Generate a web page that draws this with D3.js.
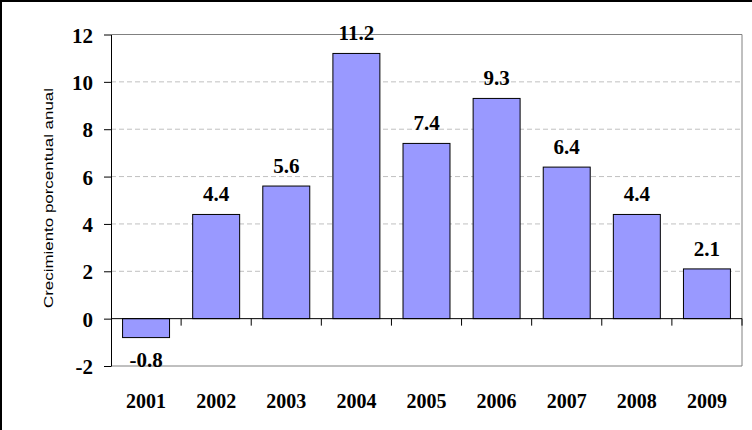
<!DOCTYPE html>
<html>
<head>
<meta charset="utf-8">
<script src="https://cdn.jsdelivr.net/npm/d3@7"></script>
<style>
  body { margin: 0; background: #fff; }
</style>
</head>
<body>
<svg class="chart"></svg>
<script>
// Datos
var years = ["2001", "2002", "2003", "2004", "2005", "2006", "2007", "2008", "2009"];
var growth = [-0.8, 4.4, 5.6, 11.2, 7.4, 9.3, 6.4, 4.4, 2.1];
var valueLabels = ["-0.8", "4.4", "5.6", "11.2", "7.4", "9.3", "6.4", "4.4", "2.1"];
var yTicks = [-2, 0, 2, 4, 6, 8, 10, 12];
var yTickLabels = ["-2", "0", "2", "4", "6", "8", "10", "12"];
var yTitle = "Crecimiento porcentual anual";

var data = years.map(function(y, i) { return { year: y, value: growth[i], label: valueLabels[i] }; });

var W = 752, H = 430;
var plotLeft = 111, plotRight = 742, plotTop = 34.5, plotBottom = 366;
var serif = "'Liberation Serif', 'Times New Roman', 'DejaVu Serif', serif";

var svg = d3.select(".chart")
    .attr("width", W)
    .attr("height", H);

// Marco exterior (solo se ven arriba e izquierda)
svg.append("rect")
    .attr("x", 1).attr("y", 1)
    .attr("width", W + 10).attr("height", H + 10)
    .attr("fill", "none")
    .attr("stroke", "#000")
    .attr("stroke-width", 2);

// Escalas
var x = d3.scaleBand()
    .domain(years)
    .range([plotLeft, plotRight])
    .padding(0);

var y = d3.scaleLinear()
    .domain([-2, 12])
    .range([plotBottom, plotTop]);

var barW = x.bandwidth() * 0.67;

// Líneas de cuadrícula
svg.selectAll(".grid")
    .data(yTicks.filter(function(t) { return t > 0 && t < 12; }))
  .enter().append("line")
    .attr("x1", plotLeft).attr("x2", plotRight)
    .attr("y1", function(d) { return y(d); })
    .attr("y2", function(d) { return y(d); })
    .attr("stroke", "#c0c0c0")
    .attr("stroke-dasharray", "5,3");

// Marco del área de trazado
svg.append("path")
    .attr("d", "M" + plotLeft + "," + y(12) + "H" + plotRight + "V" + y(-2) + "H" + plotLeft)
    .attr("fill", "none")
    .attr("stroke", "#808080")
    .attr("stroke-width", 1);

// Barras
svg.selectAll(".bar")
    .data(data)
  .enter().append("rect")
    .attr("class", "bar")
    .attr("x", function(d) { return x(d.year) + (x.bandwidth() - barW) / 2; })
    .attr("width", barW)
    .attr("y", function(d) { return y(Math.max(0, d.value)); })
    .attr("height", function(d) { return Math.abs(y(d.value) - y(0)); })
    .attr("fill", "#9999ff")
    .attr("stroke", "#000")
    .attr("stroke-width", 1);

// Línea del cero y marcas entre categorías
svg.append("line")
    .attr("x1", plotLeft).attr("x2", plotRight)
    .attr("y1", y(0)).attr("y2", y(0))
    .attr("stroke", "#000");

svg.selectAll(".xtick")
    .data(years)
  .enter().append("line")
    .attr("x1", function(d) { return x(d) + x.bandwidth(); })
    .attr("x2", function(d) { return x(d) + x.bandwidth(); })
    .attr("y1", y(0))
    .attr("y2", y(0) + 7)
    .attr("stroke", "#000");

// Eje Y
var yAxis = svg.append("g")
    .attr("transform", "translate(" + plotLeft + ",0)")
    .call(d3.axisLeft(y)
        .tickValues(yTicks)
        .tickFormat(function(d, i) { return yTickLabels[i]; })
        .tickSize(7)
        .tickSizeOuter(0)
        .tickPadding(11));

yAxis.attr("font-family", null).attr("font-size", null);
yAxis.select(".domain").attr("stroke", "#000");
yAxis.selectAll(".tick line").attr("stroke", "#000");
yAxis.selectAll(".tick text")
    .attr("fill", "#000")
    .attr("dy", "0.36em")
    .style("font-family", serif)
    .style("font-weight", "bold")
    .style("font-size", "21px");

// Etiquetas de valores
svg.selectAll(".vlabel")
    .data(data)
  .enter().append("text")
    .attr("x", function(d) { return x(d.year) + x.bandwidth() / 2; })
    .attr("y", function(d) { return d.value >= 0 ? y(d.value) - 13 : y(d.value) + 29; })
    .attr("text-anchor", "middle")
    .style("font-family", serif)
    .style("font-weight", "bold")
    .style("font-size", "21px")
    .text(function(d) { return d.label; });

// Etiquetas del eje X
svg.selectAll(".xlabel")
    .data(years)
  .enter().append("text")
    .attr("x", function(d) { return x(d) + x.bandwidth() / 2; })
    .attr("y", 407.5)
    .attr("text-anchor", "middle")
    .style("font-family", serif)
    .style("font-weight", "bold")
    .style("font-size", "20px")
    .text(function(d) { return d; });

// Título del eje Y
svg.append("text")
    .attr("transform", "translate(52.5,198) rotate(-90)")
    .attr("text-anchor", "middle")
    .attr("textLength", 220)
    .attr("lengthAdjust", "spacingAndGlyphs")
    .style("font-family", "'Liberation Sans', Arial, sans-serif")
    .style("font-size", "13px")
    .text(yTitle);
</script>
</body>
</html>
